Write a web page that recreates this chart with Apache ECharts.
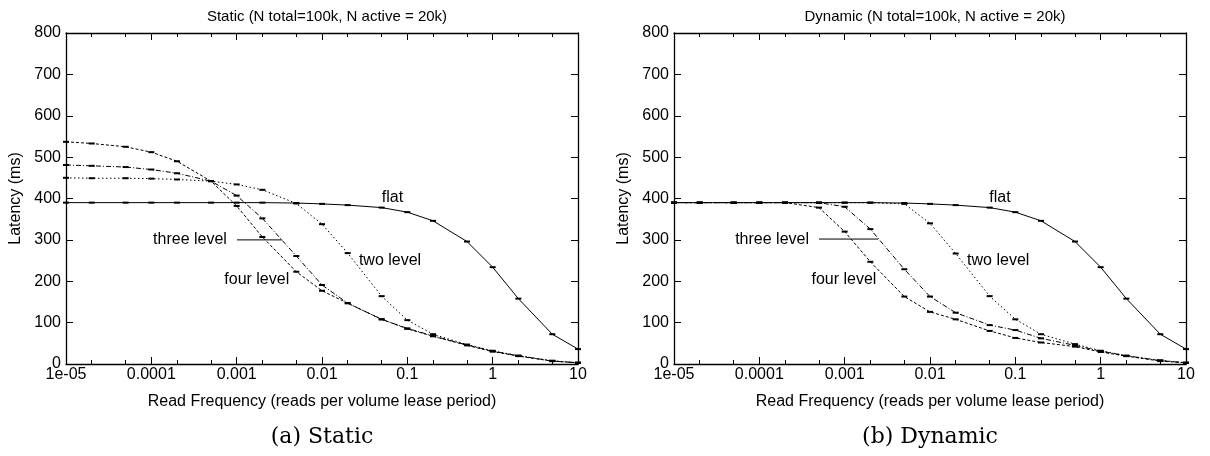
<!DOCTYPE html>
<html><head><meta charset="utf-8">
<script src="https://cdn.jsdelivr.net/npm/echarts@6/dist/echarts.min.js"></script>
<style>html,body{margin:0;padding:0;background:#fff}#c{width:1210px;height:456px}</style>
</head><body><div id="c"></div>
<script>
// ---- data ----
const xValues = [1e-5, 2e-5, 5e-5, 1e-4, 2e-4, 5e-4, 1e-3, 2e-3, 5e-3, 0.01, 0.02, 0.05, 0.1, 0.2, 0.5, 1, 2, 5, 10];
const xTickValues = [1e-5, 1e-4, 1e-3, 1e-2, 0.1, 1, 10];
const xTickLabels = ['1e-05', '0.0001', '0.001', '0.01', '0.1', '1', '10'];
const xMinorTickValues = [2e-5, 5e-5, 2e-4, 5e-4, 2e-3, 5e-3, 0.02, 0.05, 0.2, 0.5, 2, 5];

const staticFlat  = [390, 390, 390, 390, 390, 390, 390, 390, 389, 387, 384, 378, 367, 346, 296, 234, 158, 72, 36];
const staticTwo   = [450, 449, 449, 448, 446, 442, 434, 421, 388, 338, 268, 164, 106, 72, 47, 32, 20, 8, 3];
const staticThree = [481, 479, 476, 470, 461, 442, 407, 352, 261, 191, 147, 108, 86, 68, 46, 31, 20, 7, 3];
const staticFour  = [537, 533, 525, 512, 490, 442, 382, 307, 223, 177, 147, 108, 85, 67, 45, 30, 19, 7, 3];

const dynamicFlat  = [390, 390, 390, 390, 390, 390, 390, 390, 389, 387, 384, 378, 367, 346, 296, 234, 158, 72, 36];
const dynamicTwo   = [390, 390, 390, 390, 390, 390, 390, 390, 387, 340, 267, 164, 108, 72, 48, 32, 20, 9, 3];
const dynamicThree = [390, 390, 390, 390, 390, 390, 380, 326, 229, 163, 124, 94, 82, 62, 45, 31, 20, 8, 3];
const dynamicFour  = [390, 390, 390, 390, 390, 378, 320, 247, 163, 126, 108, 80, 63, 52, 42, 29, 19, 7, 3];

const seriesNames = ['flat', 'two level', 'three level', 'four level'];
const panelTitles = ['Static (N total=100k, N active = 20k)', 'Dynamic (N total=100k, N active = 20k)'];
const panelCaptions = ['(a) Static', '(b) Dynamic'];
const xAxisName = 'Read Frequency (reads per volume lease period)';
const yAxisName = 'Latency (ms)';

// ---- styling / layout ----
const FONT = 'Liberation Sans';
const panels = [
  { left: 66, right: 632, data: [staticFlat, staticTwo, staticThree, staticFour],
    notes: [
      { text: 'flat', at: [0.067, 401] },
      { text: 'two level', at: [0.0627, 251] },
      { text: 'three level', at: [2.84e-4, 300] },
      { text: 'four level', at: [1.72e-3, 203] }
    ],
    pointer: [[1.01e-3, 300], [3.4e-3, 300]] },
  { left: 674, right: 24, data: [dynamicFlat, dynamicTwo, dynamicThree, dynamicFour],
    notes: [
      { text: 'flat', at: [0.066, 401] },
      { text: 'two level', at: [0.063, 251] },
      { text: 'three level', at: [1.41e-4, 300] },
      { text: 'four level', at: [9.8e-4, 205] }
    ],
    pointer: [[5.0e-4, 302], [2.46e-3, 302]] }
];
const lineTypes = ['solid', [1.5, 2.5], [5, 2, 1, 2], [3, 2]];

function logLabel(v) {
  const e = Math.log10(v);
  const i = xTickValues.findIndex(t => Math.abs(Math.log10(t) - e) < 1e-6);
  return i >= 0 ? xTickLabels[i] : '';
}

const grids = [], xAxes = [], yAxes = [], series = [], titles = [];
panels.forEach((p, g) => {
  grids.push({ left: p.left, right: p.right, top: 33, bottom: 92, show: false });
  const baseX = { type: 'log', logBase: 10, gridIndex: g, min: 1e-5, max: 10, splitLine: { show: false } };
  xAxes.push(Object.assign({}, baseX, {
    position: 'bottom',
    axisLine: { show: true, onZero: false, lineStyle: { color: '#000', width: 1.3 } },
    axisTick: { show: true, inside: true, length: 7, customValues: xTickValues, lineStyle: { color: '#000' } },
    axisLabel: { show: true, customValues: xTickValues, formatter: logLabel, color: '#000', fontFamily: FONT, fontSize: 16, margin: 3 },
    name: xAxisName, nameLocation: 'middle', nameGap: 30,
    nameTextStyle: { color: '#000', fontFamily: FONT, fontSize: 16 }
  }));
  xAxes.push(Object.assign({}, baseX, {
    position: 'bottom',
    axisLine: { show: false, onZero: false },
    axisTick: { show: true, inside: true, length: 4, customValues: xMinorTickValues, lineStyle: { color: '#000' } },
    axisLabel: { show: false }
  }));
  xAxes.push(Object.assign({}, baseX, {
    position: 'top',
    axisLine: { show: true, onZero: false, lineStyle: { color: '#000', width: 1.3 } },
    axisTick: { show: true, inside: true, length: 7, customValues: xTickValues, lineStyle: { color: '#000' } },
    axisLabel: { show: false }
  }));
  xAxes.push(Object.assign({}, baseX, {
    position: 'top',
    axisLine: { show: false, onZero: false },
    axisTick: { show: true, inside: true, length: 4, customValues: xMinorTickValues, lineStyle: { color: '#000' } },
    axisLabel: { show: false }
  }));
  const baseY = { type: 'value', gridIndex: g, min: 0, max: 800, interval: 100, splitLine: { show: false } };
  yAxes.push(Object.assign({}, baseY, {
    position: 'left',
    axisLine: { show: true, onZero: false, lineStyle: { color: '#000', width: 1.3 } },
    axisTick: { show: true, inside: true, length: 7, lineStyle: { color: '#000' } },
    axisLabel: { show: true, color: '#000', fontFamily: FONT, fontSize: 16, margin: 5 },
    name: yAxisName, nameLocation: 'middle', nameGap: 42, nameRotate: 90,
    nameTextStyle: { color: '#000', fontFamily: FONT, fontSize: 16 }
  }));
  yAxes.push(Object.assign({}, baseY, {
    position: 'right',
    axisLine: { show: true, onZero: false, lineStyle: { color: '#000', width: 1.3 } },
    axisTick: { show: true, inside: true, length: 7, lineStyle: { color: '#000' } },
    axisLabel: { show: false }
  }));
  p.data.forEach((vals, s) => {
    series.push({
      name: seriesNames[s] + ' ' + g,
      type: 'line',
      xAxisIndex: 4 * g, yAxisIndex: 2 * g,
      data: xValues.map((x, i) => [x, vals[i]]),
      symbol: 'rect', symbolSize: [6, 2], showSymbol: true,
      itemStyle: { color: '#000' },
      lineStyle: { color: '#000', width: 1, type: lineTypes[s] },
      z: 3, silent: true, animation: false
    });
  });
  titles.push({
    text: panelTitles[g], left: p.left + (1210 - p.left - p.right) / 2, top: 4, textAlign: 'center',
    textStyle: { color: '#000', fontFamily: FONT, fontSize: 15, fontWeight: 'normal' }
  });
});

const chart = echarts.init(document.getElementById('c'), null, { renderer: 'canvas' });
chart.setOption({
  backgroundColor: '#fff',
  animation: false,
  title: titles,
  grid: grids,
  xAxis: xAxes,
  yAxis: yAxes,
  series: series
});

const graphics = [];
panels.forEach((p, g) => {
  const finder = { xAxisIndex: 4 * g, yAxisIndex: 2 * g };
  p.notes.forEach(n => {
    const pt = chart.convertToPixel(finder, n.at);
    graphics.push({ type: 'text', x: pt[0], y: pt[1], style: {
      text: n.text, fill: '#000', font: '16px "Liberation Sans"', textAlign: 'center', textVerticalAlign: 'middle' } });
  });
  const a = chart.convertToPixel(finder, p.pointer[0]);
  const b = chart.convertToPixel(finder, p.pointer[1]);
  graphics.push({ type: 'line', shape: { x1: a[0], y1: a[1], x2: b[0], y2: b[1] }, style: { stroke: '#000', lineWidth: 1 } });
  const cx = p.left + (1210 - p.left - p.right) / 2;
  graphics.push({ type: 'text', x: cx, y: 437, style: {
    text: panelCaptions[g], fill: '#000', font: '22px "DejaVu Serif"', textAlign: 'center', textVerticalAlign: 'middle' } });
});
chart.setOption({ graphic: graphics });
</script>
</body></html>
